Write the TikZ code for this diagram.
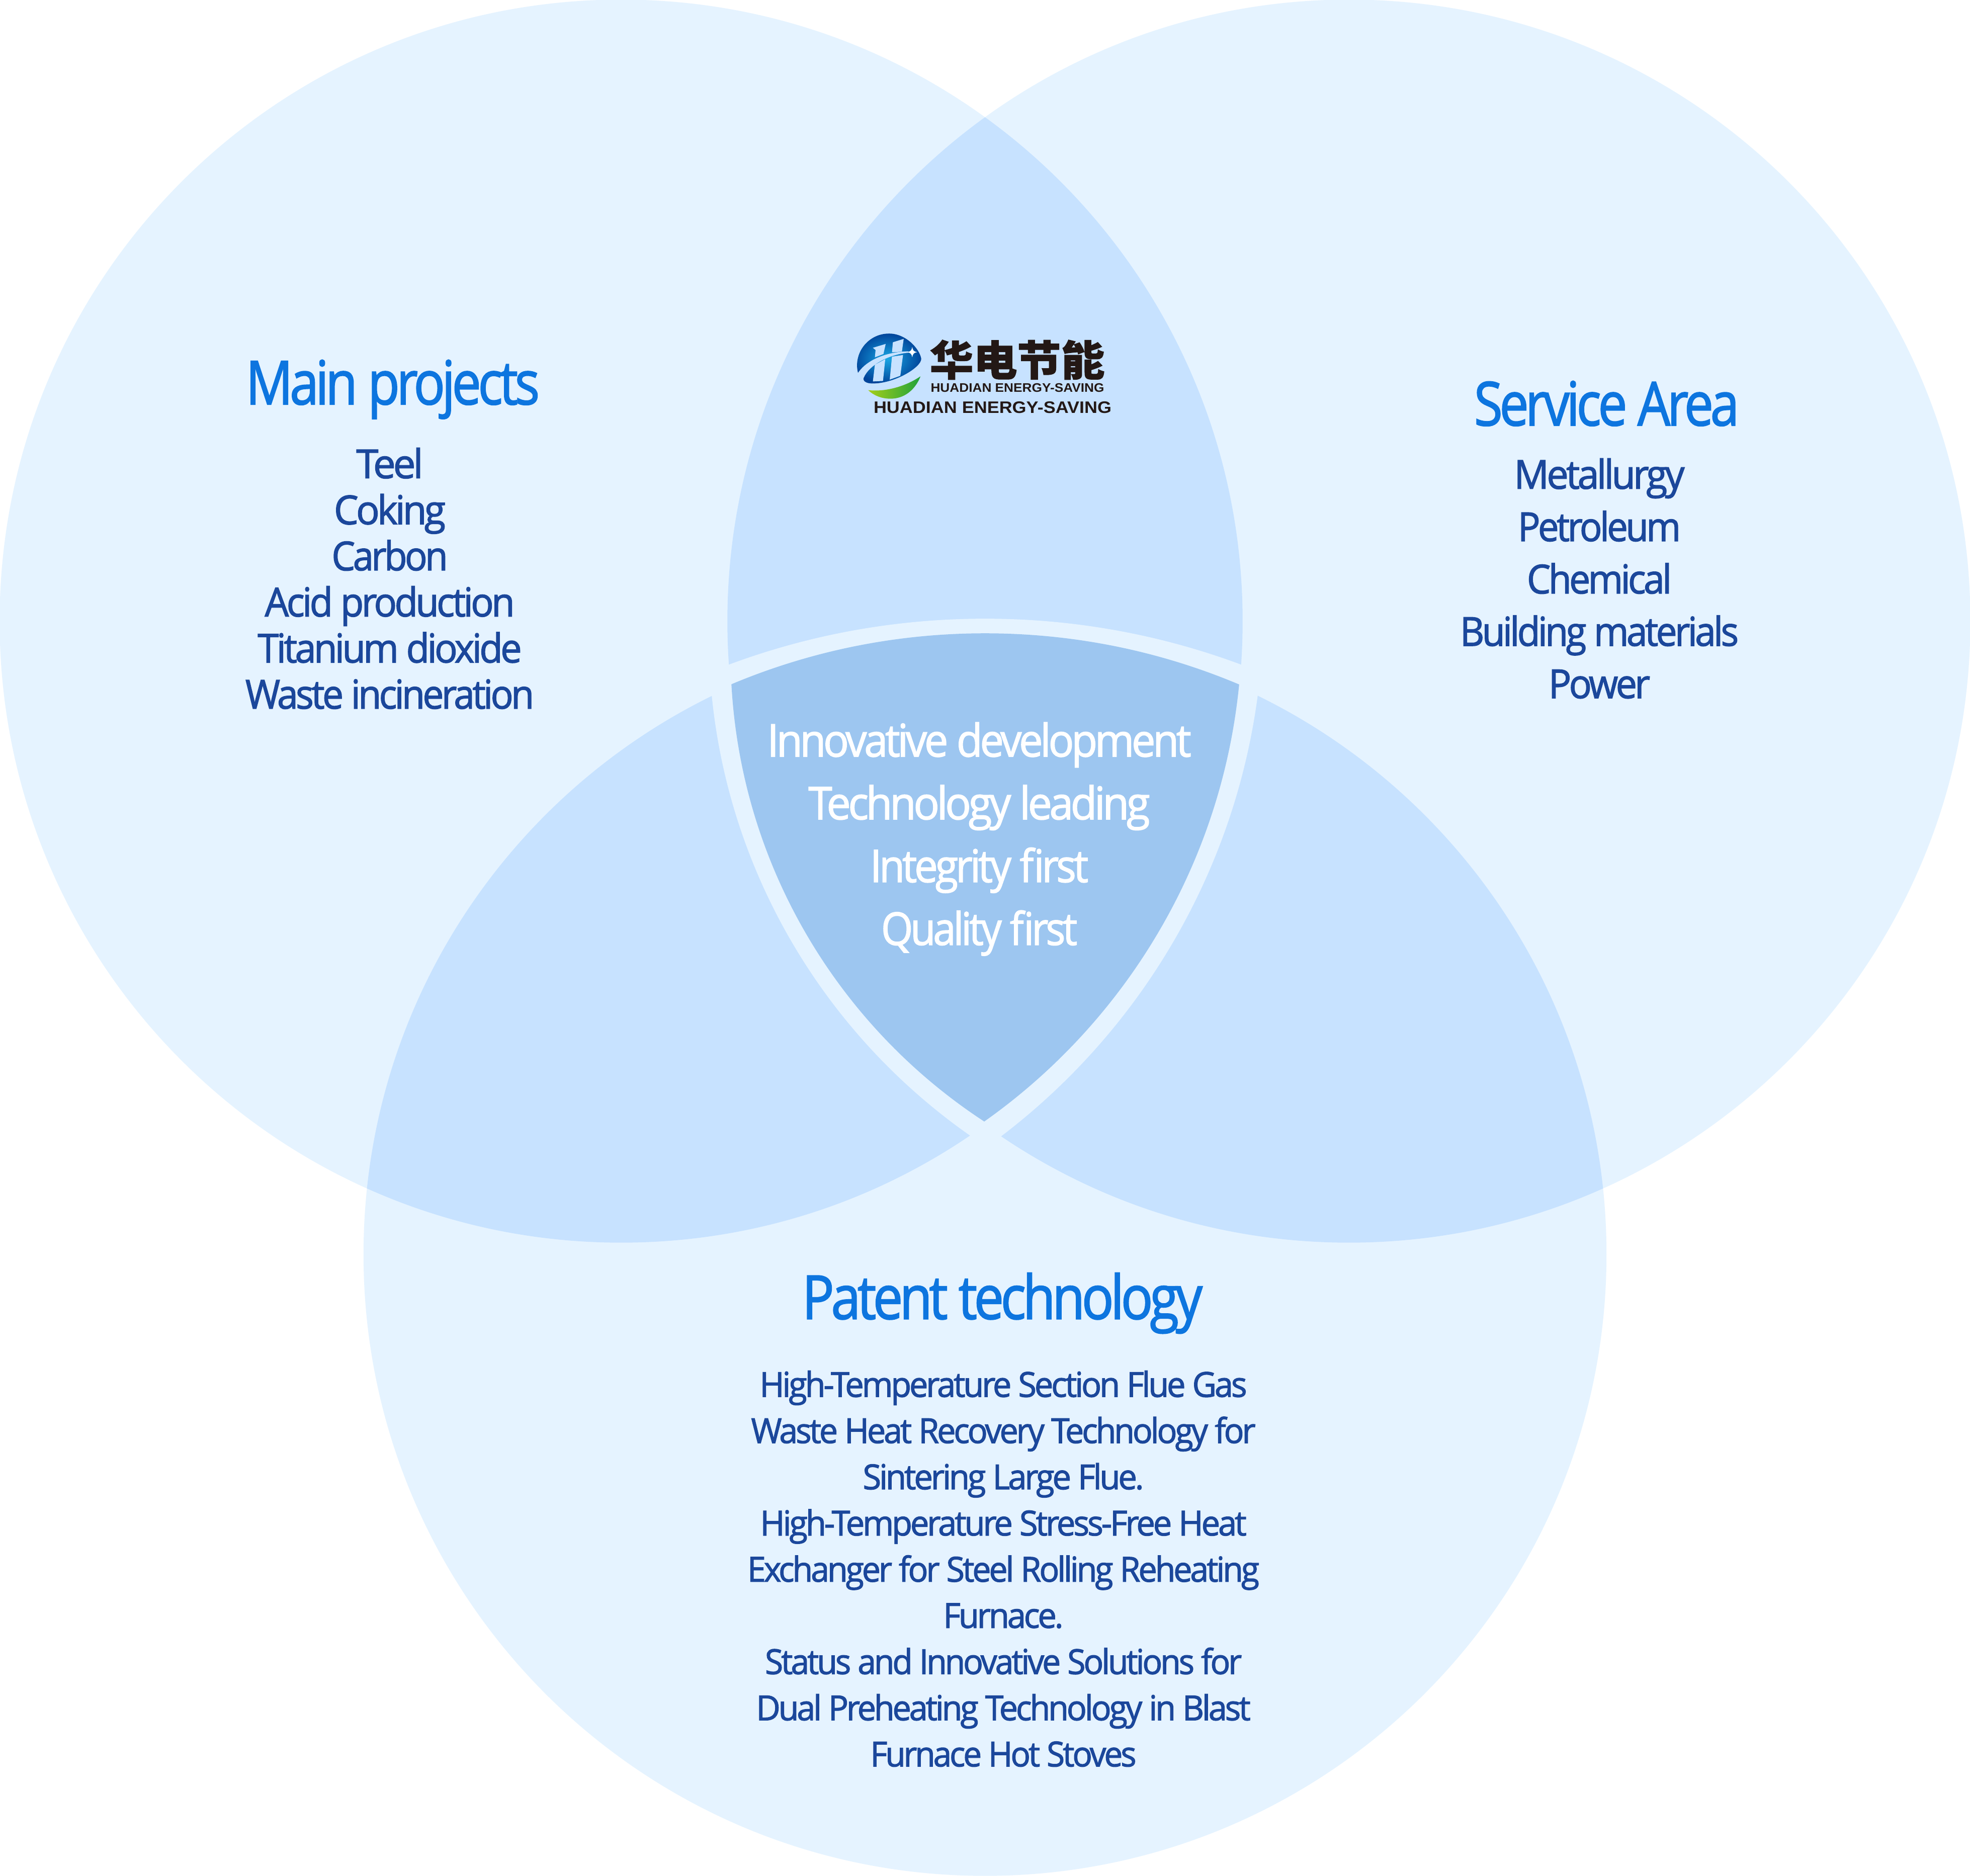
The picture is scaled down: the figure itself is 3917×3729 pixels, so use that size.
\documentclass[tikz,border=0pt]{standalone}
\usepackage{fontspec}
\usepackage{graphicx}
\setmainfont[LetterSpace=-6,FakeBold=1.8]{Open Sans}
\newfontfamily\cjkfont[BoldFeatures={FakeBold=1.2}]{Noto Sans CJK SC}
\newfontfamily\logofont{Liberation Sans}
\newlength{\pxu}\setlength{\pxu}{0.01cm}
\newcommand{\fw}[2]{\resizebox{\dimexpr #1\pxu+8\pxu\relax}{\height}{#2}}
\newcommand{\firstline}{\rule{0pt}{\baselineskip}}
\definecolor{lightb}{HTML}{E5F3FF}
\definecolor{midb}{HTML}{C7E2FF}
\definecolor{darkb}{HTML}{9DC6F0}
\definecolor{headb}{HTML}{0D75DF}
\definecolor{bodyb}{HTML}{1B479B}
\definecolor{logok}{HTML}{231815}
\definecolor{eggin}{HTML}{19A7E4}
\definecolor{eggout}{HTML}{00449A}
\definecolor{leafl}{HTML}{A4CE1A}
\definecolor{leafr}{HTML}{1FA23A}
\tikzset{
  ring/.style={fill=lightb},
  overlap/.style={fill=midb},
  headtxt/.style={anchor=base,inner sep=0pt,text=headb,font=\fontsize{34.3}{40}\selectfont},
  listA/.style={anchor=north,inner sep=0pt,align=center,text=bodyb,font=\fontsize{22.6}{26.06}\selectfont},
  listB/.style={anchor=north,inner sep=0pt,align=center,text=bodyb,font=\fontsize{22.6}{29.6}\selectfont},
  listC/.style={anchor=north,inner sep=0pt,align=center,text=bodyb,font=\fontsize{19.5}{26.12}\selectfont},
  listD/.style={anchor=north,inner sep=0pt,align=center,text=white,font=\fontsize{25.5}{35.5}\selectfont},
  logotxt/.style={anchor=base,inner sep=0pt,text=logok}
}
\begin{document}
\begin{tikzpicture}[x=0.01cm,y=0.01cm]
\useasboundingbox (0,0) rectangle (3917,3729);
\fill[white] (0,0) rectangle (3917,3729);
\coordinate (A) at (1235,2494);
\coordinate (B) at (2682,2494);
\coordinate (C) at (1958.5,1235);
% circles
\fill[ring] (A) circle[radius=12.35cm];
\fill[ring] (B) circle[radius=12.35cm];
\fill[ring] (C) circle[radius=12.35cm];
% pair overlaps
\begin{scope}\clip (A) circle[radius=12.35cm]; \fill[overlap] (B) circle[radius=12.35cm];\end{scope}
\begin{scope}\clip (A) circle[radius=12.35cm]; \fill[overlap] (C) circle[radius=12.35cm];\end{scope}
\begin{scope}\clip (B) circle[radius=12.35cm]; \fill[overlap] (C) circle[radius=12.35cm];\end{scope}
% pale band round the centre shield
\begin{scope}
  \clip (1958.5,1040) circle[radius=14.58cm];
  \clip (1191.5,2521.5) circle[radius=13.2cm];
  \fill[ring] (2625.8,2468.6) circle[radius=12.16cm];
\end{scope}
% centre shield
\begin{scope}
  \clip (1958.5,1168) circle[radius=13.01cm];
  \clip (1259,2488.5) circle[radius=12.1cm];
  \fill[darkb] (2565.6,2431.2) circle[radius=11.124cm];
\end{scope}
% logo
\begin{scope}[shift={(1600,3109)},x=0.0044643cm,y=-0.0033333cm]
  \shade[inner color=eggin,outer color=eggout]
    (237,365) .. controls (215,250) and (280,130) .. (375,130)
    .. controls (450,130) and (510,220) .. (518,280)
    .. controls (520,330) and (400,430) .. (300,428)
    .. controls (270,428) and (258,410) .. (262,395) -- cycle;
  \fill[midb] (237,365) .. controls (280,280) and (370,240) .. (460,236)
    -- (462,244) .. controls (370,255) and (285,320) .. (262,395) -- (237,395) -- cycle;
  \fill[midb] (303,215) -- (360,192) -- (350,252) -- (312,272) -- (315,228) -- cycle;
  \fill[midb] (392,182) -- (440,162) -- (432,238) -- (388,242) -- cycle;
  \fill[midb] (312,316) -- (358,283) -- (348,413) -- (303,416) -- cycle;
  \fill[midb] (388,268) -- (437,258) -- (425,382) -- (378,405) -- cycle;
  \fill[white] (478,210) .. controls (480,230) and (485,238) .. (500,241)
    .. controls (485,244) and (480,252) .. (478,272)
    .. controls (476,252) and (470,244) .. (455,241)
    .. controls (470,238) and (476,230) .. (478,210) -- cycle;
  \shade[left color=leafl,right color=leafr]
    (282,468) .. controls (360,480) and (450,445) .. (515,385)
    .. controls (490,470) and (440,520) .. (380,519)
    .. controls (340,519) and (305,498) .. (282,468) -- cycle;
\end{scope}
\node[logotxt,font=\cjkfont\bfseries\fontsize{23.6}{28}\selectfont] (logocn) at (2022.5,2982) {\fw{340}{华电节能}};
\node[logotxt,font=\logofont\bfseries\fontsize{7}{8}\selectfont] (logoen) at (2023,2949) {\fw{337}{HUADIAN ENERGY-SAVING}};
\node[logotxt,font=\logofont\bfseries\fontsize{9.4}{11}\selectfont] (logoen2) at (1973.5,2907) {\fw{465}{HUADIAN ENERGY-SAVING}};
% texts
\node[headtxt] (mainh) at (781,2925) {\fw{576}{Main projects}};
\node[listA] (mainl) at (775,2870.6) {\firstline\fw{125}{Teel}\\ \fw{214}{Coking}\\ \fw{223}{Carbon}\\ \fw{489}{Acid production}\\ \fw{517}{Titanium dioxide}\\ \fw{566}{Waste incineration}};
\node[headtxt] (servh) at (3194.5,2883) {\fw{519}{Service Area}};
\node[listB] (servl) at (3180,2862) {\firstline\fw{331}{Metallurgy}\\ \fw{316}{Petroleum}\\ \fw{280}{Chemical}\\ \fw{546}{Building materials}\\ \fw{194}{Power}};
\node[headtxt] (pateh) at (1993,1106.5) {\fw{788}{Patent technology}};
\node[listC] (patel) at (1995,1044.2) {\firstline\fw{961}{High-Temperature Section Flue Gas}\\ \fw{995}{Waste Heat Recovery Technology for}\\ \fw{551}{Sintering Large Flue.}\\ \fw{959}{High-Temperature Stress-Free Heat}\\ \fw{1010}{Exchanger for Steel Rolling Reheating}\\ \fw{231}{Furnace.}\\ \fw{940}{Status and Innovative Solutions for}\\ \fw{975}{Dual Preheating Technology in Blast}\\ \fw{521}{Furnace Hot Stoves}};
\node[listD] (core) at (1947,2350.3) {\firstline\fw{835}{Innovative development}\\ \fw{671}{Technology leading}\\ \fw{426}{Integrity first}\\ \fw{382}{Quality first}};
\end{tikzpicture}
\end{document}
